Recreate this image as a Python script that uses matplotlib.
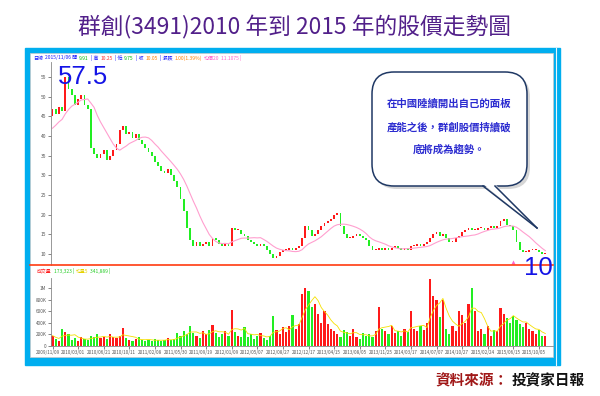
import numpy as np
import pandas as pd
import matplotlib
matplotlib.use("Agg")
import matplotlib.pyplot as plt
import matplotlib.transforms as mtransforms
from matplotlib.patches import Rectangle, FancyBboxPatch, Polygon

plt.rcParams['font.family'] = ['Noto Sans CJK TC', 'DejaVu Sans']

W, H = 600, 396

# 雙週 K 線收盤價 (2009/11 ~ 2015/11)
closes = [47, 45.5, 47.5, 46.5, 55,
          52, 50.5, 48,
          49.5, 50.5, 48,
          47,
          37,
          35.5, 34.5, 35.5, 36.5, 34, 35, 36.5, 38,
          41.5, 42.5, 40.5,
          41, 39.5, 40.5, 39, 38,
          37, 36, 35,
          33.5, 32.5, 31, 30.5, 31.5, 30,
          28.5, 27, 24, 21,
          16.5, 13.5, 12,
          13, 12, 12.5, 13, 12, 14, 13.5, 12.5, 12, 12.5, 12,
          16.5, 16, 16,
          15, 14.5, 13.5, 13, 12.5, 12, 12.5, 12,
          11, 10, 9, 9.5,
          10.5, 11, 11, 11.5, 11, 11.5, 12,
          14, 17, 16,
          14.5, 15,
          16, 17, 18, 18.5, 19, 20, 20.5,
          17, 15, 14,
          14, 14.5, 15, 14.5, 14, 13.5,
          12, 11, 11,
          11.5, 11, 11.5, 11, 11.5, 12, 11.5, 11, 11.5, 11,
          12, 12, 12.5, 12,
          12.5, 13, 14, 15, 15.5, 14.5, 15,
          14, 13, 13, 14,
          14.5, 15.5, 16, 16.5, 16,
          16, 16.5, 16.5, 16, 16.5, 17, 16.5, 17,
          18.5, 19,
          17.5, 17, 16,
          13, 11,
          10.5, 10.5, 11, 11, 11, 10.5, 10, 10]

# 2009 年 11 月以前的收盤 (只用來算均價)
seed_closes = [38, 39, 40, 41, 41, 42, 43, 44, 45]

# 成交量 (千張)
volumes_k = [180, 120, 90, 290, 240, 200, 110, 130, 90, 150, 120, 100, 180, 150, 210, 130,
             160, 120, 200, 150, 130, 180, 310,
             140, 100, 80, 120, 150, 100, 90, 110, 80, 120, 100, 90, 110, 130, 100, 120,
             220, 180, 260, 200, 340, 230,
             180, 140, 250, 200, 280, 366, 220, 160, 200, 250, 180,
             620, 240, 180, 150, 330, 160, 200, 120, 180, 230, 140, 110, 180,
             520, 280, 200, 330, 240, 350, 540, 300,
             380, 900, 1000, 950, 680, 720, 560, 400, 600, 380,
             300, 250, 200, 150, 280, 240, 180, 300, 150, 120, 220, 180, 200, 150, 250,
             680, 300, 250, 200, 350, 220, 260, 180, 300, 240,
             600, 300, 250, 350, 280, 400, 1150, 870, 790, 500, 790,
             300, 200, 350, 250,
             600, 530, 400, 730, 1000, 600,
             250, 300, 200, 350, 180, 280, 250,
             660, 560, 480, 400, 520, 450, 380, 320, 400,
             300, 250, 200, 280, 180, 170]

date_labels = ['2009/11/09', '2010/03/01', '2010/06/21', '2010/10/11', '2011/02/08',
               '2011/05/30', '2011/09/19', '2012/01/09', '2012/05/07', '2012/08/27',
               '2012/12/17', '2013/04/15', '2013/08/05', '2013/11/25', '2014/03/17',
               '2014/07/07', '2014/10/27', '2015/02/24', '2015/06/15', '2015/10/05']
price_ticks = [10, 15, 20, 25, 30, 35, 40, 45, 50, 55]
vol_ticks = [0, 200, 400, 600, 800, 1000]
vol_tick_labels = ['0', '200K', '400K', '600K', '800K', '1M']

info_parts = [('日線', '#1a1aff'), ('2015/11/06 開', '#1a1aff'), ('9.91', '#00bb00'),
              ('| 高', '#1a1aff'), ('10.25', '#ff3030'), ('| 低', '#1a1aff'),
              ('9.75', '#00bb00'), ('| 收', '#1a1aff'), ('10.05', '#ff8000'),
              ('| 漲跌', '#1a1aff'), ('1.00(1.39%)', '#ff8000'),
              ('均價20', '#ff66cc'), ('11.1075 |', '#ff66cc')]
vol_parts = [('成交量', '#ff2020'), ('173,323 |', '#22cc22'),
             ('均量5', '#e6d200'), ('341,889 |', '#22cc22')]
low_mark_pos = (144, 7.9)

RED = '#ff1a1a'
GREEN = '#22ee22'
BIG_FONT = ['Liberation Sans Narrow', 'Liberation Sans', 'DejaVu Sans']


def px_box(l, t, r, b):
    return [l / W, 1 - b / H, (r - l) / W, (b - t) / H]


def text_row(axp, parts, x0, y0, size, gap=2.0):
    # 一段接一段排列文字
    r = fig.canvas.get_renderer()
    xp = x0
    for txt, col in parts:
        t = axp.text(xp, y0, txt, fontsize=size, color=col, ha='left', va='center')
        bb = t.get_window_extent(renderer=r)
        xp += bb.width * W / fig.bbox.width + gap


fig = plt.figure(figsize=(6, 3.96), dpi=100)

# 背景 (像素座標)
bg = fig.add_axes([0, 0, 1, 1], zorder=0)
bg.set_xlim(0, W)
bg.set_ylim(H, 0)
bg.axis('off')
bg.add_patch(Rectangle((25, 48), 535, 317, color='#00aeef'))
bg.add_patch(Rectangle((30, 53), 523, 304, facecolor='white', edgecolor='#c8c8c8', lw=0.5))
bg.plot([556, 556], [48, 365], color='#e8f6fd', lw=0.8)

bg.text(295, 27, '群創(3491)2010 年到 2015 年的股價走勢圖', ha='center', va='center',
        fontsize=16.4, color='#52208a')
bg.text(435, 380, '資料來源：', ha='left', va='center', fontsize=10.5,
        fontweight='bold', color='#a01818')
bg.text(512, 380, '投資家日報', ha='left', va='center', fontsize=10.5,
        fontweight='bold', color='#111111')

text_row(bg, info_parts, 33, 58, 3.6)
text_row(bg, vol_parts, 37, 271, 3.5)

x = np.arange(len(closes))
opens = [seed_closes[-1]] + closes[:-1]
colors = [RED if c >= o else GREEN for o, c in zip(opens, closes)]
bottoms = [min(o, c) for o, c in zip(opens, closes)]
heights = [max(abs(c - o), 0.25) for o, c in zip(opens, closes)]
ma20 = pd.Series(seed_closes + closes).rolling(10).mean().iloc[len(seed_closes):].values
vol_ma5 = pd.Series(volumes_k).rolling(5, min_periods=1).mean().values

xlim = (-0.625, 156.4)

# 股價
ax = fig.add_axes(px_box(50.5, 62, 553, 265), zorder=1)
ax.patch.set_alpha(0)
ax.bar(x, heights, bottom=bottoms, width=0.6, color=colors, linewidth=0)
ax.plot(x, ma20, color='#ff9fcf', lw=0.8)
ax.plot(*low_mark_pos, marker='^', ms=3, color='#ff66cc', mew=0)
ax.set_xlim(*xlim)
ax.set_ylim(7.2, 58.85)
ax.set_yticks(price_ticks)
ax.set_xticks([])
ax.tick_params(axis='y', labelsize=3.5, length=2, width=0.5, colors='#555555', pad=1)
for s in ['top', 'right', 'bottom']:
    ax.spines[s].set_visible(False)
ax.spines['left'].set_color('#888888')
ax.spines['left'].set_linewidth(0.6)

# 成交量
av = fig.add_axes(px_box(50.5, 278, 553, 346), zorder=1)
av.patch.set_alpha(0)
av.bar(x, volumes_k, width=0.7, color=colors, linewidth=0)
av.plot(x, vol_ma5, color='#f5e000', lw=0.6)
av.set_xlim(*xlim)
av.set_ylim(0, 1172)
av.set_yticks(vol_ticks)
av.set_yticklabels(vol_tick_labels)
av.set_xticks(np.arange(len(date_labels)) * 8)
av.set_xticklabels(date_labels)
av.tick_params(labelsize=3.3, length=2, width=0.5, colors='#555555', pad=1)
shift = mtransforms.ScaledTranslation(-5 / 100, 0, fig.dpi_scale_trans)
for lbl in av.get_xticklabels():
    lbl.set_transform(lbl.get_transform() + shift)
for s in ['top', 'right']:
    av.spines[s].set_visible(False)
for s in ['left', 'bottom']:
    av.spines[s].set_color('#888888')
    av.spines[s].set_linewidth(0.6)

# 註解層
top = fig.add_axes([0, 0, 1, 1], zorder=3)
top.set_xlim(0, W)
top.set_ylim(H, 0)
top.axis('off')
top.patch.set_alpha(0)
top.plot([30, 553], [265, 265], color='#ff3b10', lw=1.2)

top.text(58, 84, '57.5', fontsize=18.5, color='#1414e6', family=BIG_FONT)
top.text(524, 275, '10', fontsize=18.5, color='#1414e6', family=BIG_FONT)

# 對話框
shadow = FancyBboxPatch((375, 75), 155, 114, boxstyle='round,pad=0,rounding_size=22',
                        facecolor='#bbbbbb', edgecolor='none', alpha=0.6)
top.add_patch(shadow)
top.add_patch(Polygon([[486, 188], [540, 231], [498, 188]], closed=True,
                      facecolor='#bbbbbb', edgecolor='none', alpha=0.6))
bubble = FancyBboxPatch((372, 72), 155, 114, boxstyle='round,pad=0,rounding_size=22',
                        facecolor='white', edgecolor='#1f3864', lw=1.1)
top.add_patch(bubble)
top.add_patch(Polygon([[483, 184], [537, 228], [495, 184]], closed=True,
                      facecolor='white', edgecolor='none'))
top.plot([483, 537], [186, 228], color='#1f3864', lw=1.1)
top.plot([495, 537], [186, 228], color='#1f3864', lw=1.1)

for txt, yp in [('在中國陸續開出自己的面板', 103), ('產能之後，群創股價持續破', 127),
                ('底將成為趨勢。', 150)]:
    top.text(449, yp, txt, ha='center', va='center', fontsize=7.5,
             fontweight='bold', color='#2b2bd0')

fig.savefig('out.png', dpi=100)
